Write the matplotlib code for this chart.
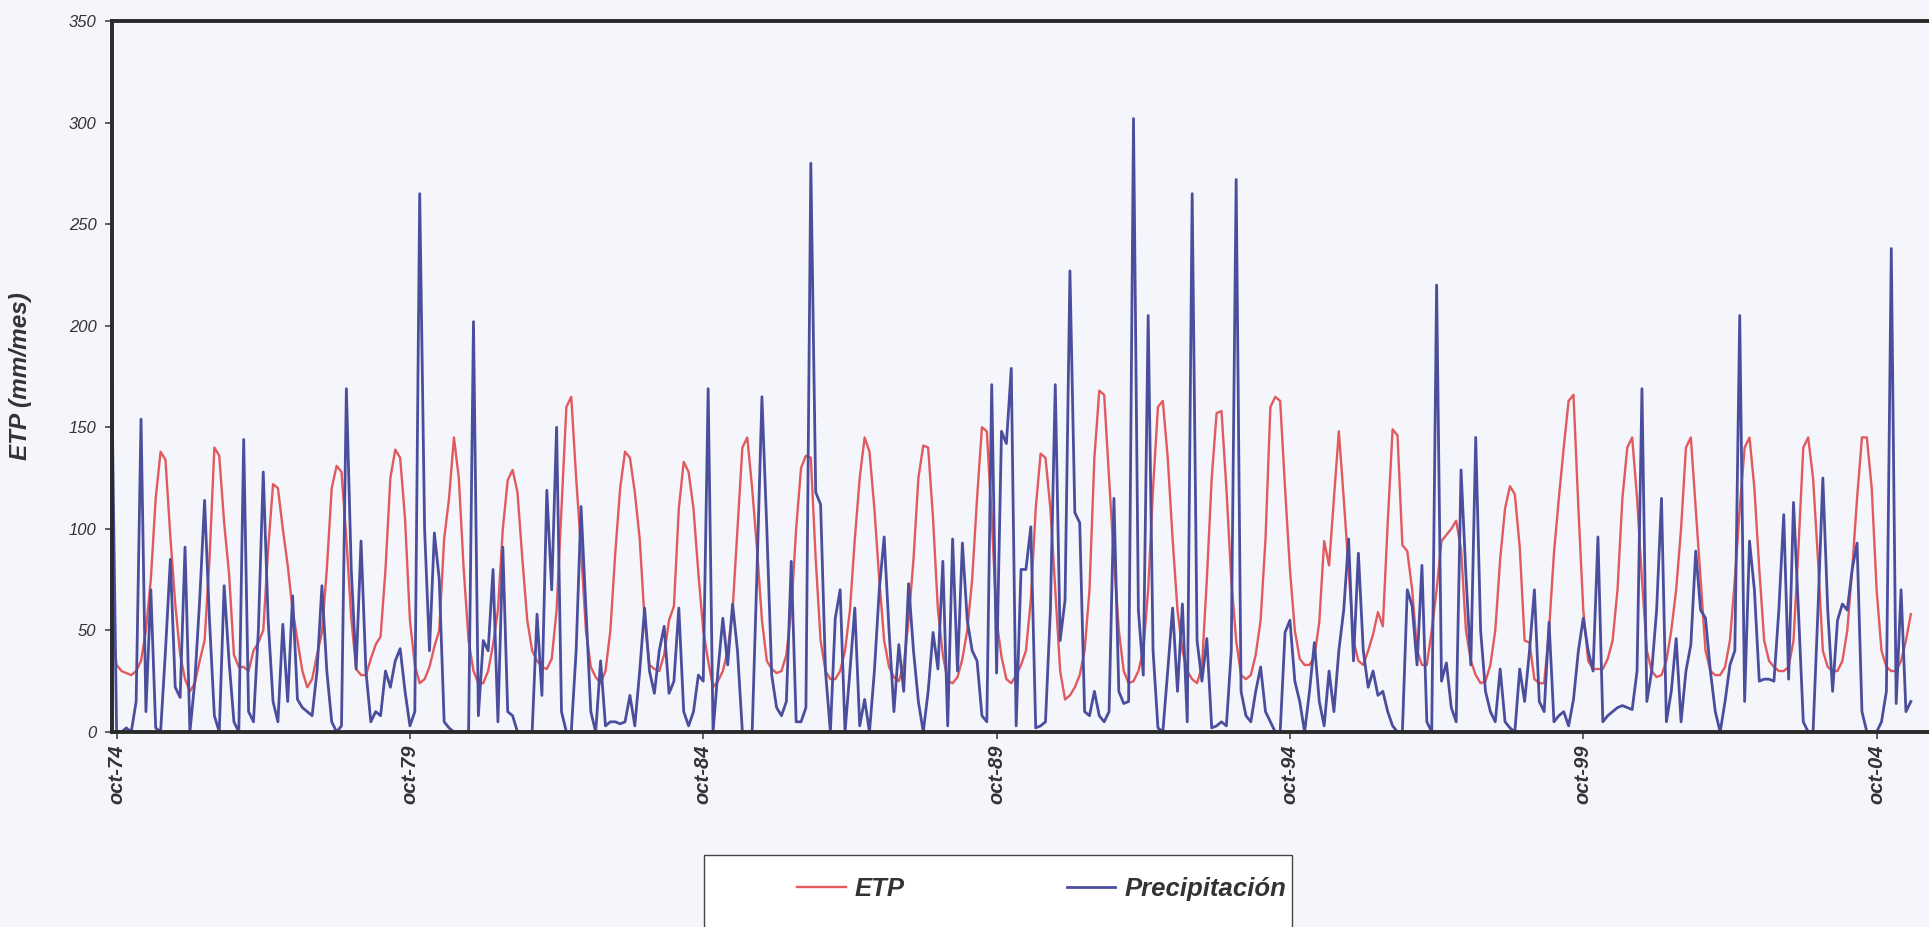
import matplotlib.pyplot as plt
from matplotlib.patches import Rectangle

plt.rcParams['font.family'] = ['Liberation Sans', 'DejaVu Sans']

# monthly series, first value sep-74, last value may-05
etp = [
    52, 33, 30, 29, 28, 30, 35, 50, 75, 115, 138, 134,
    96, 63, 38, 26, 20, 24, 35, 45, 85, 140, 136, 103,
    78, 38, 32, 32, 30, 40, 44, 50, 90, 122, 120, 100,
    82, 60, 45, 30, 22, 26, 38, 49, 80, 120, 131, 128,
    95, 56, 31, 28, 28, 36, 43, 47, 80, 125, 139, 135,
    105, 55, 33, 24, 26, 32, 42, 50, 95, 115, 145, 125,
    80, 45, 30, 24, 24, 30, 43, 60, 100, 124, 129, 118,
    85, 55, 40, 35, 32, 31, 36, 60, 110, 160, 165, 125,
    90, 50, 32, 27, 24, 30, 50, 88, 120, 138, 135, 118,
    95, 55, 33, 31, 30, 38, 55, 62, 110, 133, 128, 110,
    78, 50, 35, 22, 25, 30, 40, 60, 100, 140, 145, 120,
    90, 55, 35, 31, 29, 30, 38, 60, 100, 130, 136, 135,
    85, 45, 30, 26, 26, 30, 40, 60, 95, 125, 145, 138,
    110, 75, 45, 32, 27, 25, 33, 55, 85, 125, 141, 140,
    105, 60, 38, 25, 24, 27, 36, 50, 75, 115, 150, 148,
    105, 55, 37, 26, 24, 28, 33, 40, 65, 110, 137, 135,
    110, 70, 30, 16, 18, 22, 28, 40, 70, 135, 168, 166,
    125, 85, 50, 30, 24, 25, 30, 40, 70, 120, 160, 163,
    135, 95, 60, 40, 30, 26, 24, 32, 75, 125, 157, 158,
    120, 75, 45, 28, 26, 28, 38, 55, 95, 160, 165, 163,
    120, 80, 50, 36, 33, 33, 37, 54, 94, 82, 115, 148,
    115, 80, 45, 35, 33, 40, 48, 59, 52, 103, 149, 146,
    92, 89, 70, 40, 33, 33, 50, 70, 94, 97, 100, 104,
    90, 50, 35, 28, 24, 25, 33, 50, 85, 110, 121, 117,
    91, 45, 44, 26, 24, 24, 50, 88, 115, 140, 163, 166,
    110, 60, 35, 31, 31, 31, 36, 45, 70, 115, 140, 145,
    115, 75, 40, 30, 27, 28, 35, 50, 70, 100, 140, 145,
    110, 75, 40, 30, 28, 28, 32, 45, 75, 110, 140, 145,
    120, 80, 45, 35, 32, 30, 30, 32, 45, 90, 140, 145,
    125, 85, 40, 32, 30, 30, 35, 50, 80, 115, 145, 145,
    120, 70, 40, 32, 30, 30, 35, 45, 58,
]

precip = [
    175, 0, 0, 2, 0, 15, 154, 10, 70, 2, 0, 40,
    85, 22, 17, 91, 0, 25, 65, 114, 55, 8, 0, 72,
    35, 5, 0, 144, 10, 5, 50, 128, 55, 15, 5, 53,
    15, 67, 16, 12, 10, 8, 30, 72, 30, 5, 0, 3,
    169, 80, 31, 94, 30, 5, 10, 8, 30, 22, 35, 41,
    20, 3, 10, 265, 100, 40, 98, 75, 5, 2, 0, 0,
    0, 0, 202, 8, 45, 40, 80, 5, 91, 10, 8, 0,
    0, 0, 0, 58, 18, 119, 70, 150, 10, 0, 0, 40,
    111, 60, 10, 0, 35, 3, 5, 5, 4, 5, 18, 3,
    30, 61, 30, 19, 40, 52, 19, 25, 61, 10, 3, 10,
    28, 25, 169, 0, 30, 56, 33, 63, 40, 0, 0, 0,
    80, 165, 100, 28, 12, 8, 15, 84, 5, 5, 12, 280,
    118, 112, 30, 0, 56, 70, 0, 30, 61, 3, 16, 0,
    30, 70, 96, 50, 10, 43, 20, 73, 40, 15, 0, 20,
    49, 31, 84, 3, 95, 30, 93, 55, 40, 35, 8, 5,
    171, 29, 148, 142, 179, 3, 80, 80, 101, 2, 3, 5,
    60, 171, 45, 65, 227, 108, 103, 10, 8, 20, 8, 5,
    10, 115, 20, 14, 15, 302, 60, 28, 205, 40, 2, 0,
    30, 61, 20, 63, 5, 265, 45, 25, 46, 2, 3, 5,
    3, 40, 272, 20, 8, 5, 20, 32, 10, 5, 0, 0,
    49, 55, 25, 15, 0, 20, 44, 15, 3, 30, 10, 40,
    60, 95, 35, 88, 40, 22, 30, 18, 20, 10, 3, 0,
    0, 70, 62, 33, 82, 5, 0, 220, 25, 34, 12, 5,
    129, 77, 33, 145, 50, 20, 10, 5, 31, 5, 2, 0,
    31, 15, 40, 70, 15, 10, 54, 5, 8, 10, 3, 16,
    40, 56, 40, 30, 96, 5, 8, 10, 12, 13, 12, 11,
    30, 169, 15, 30, 60, 115, 5, 20, 46, 5, 30, 43,
    89, 60, 56, 30, 10, 0, 15, 33, 40, 205, 15, 94,
    70, 25, 26, 26, 25, 60, 107, 26, 113, 60, 5, 0,
    0, 60, 125, 60, 20, 55, 63, 60, 80, 93, 10, 0,
    0, 0, 5, 20, 238, 14, 70, 10, 15,
]

tick_months = [1, 61, 121, 181, 241, 301, 361]
tick_labels = ['oct-74', 'oct-79', 'oct-84', 'oct-89', 'oct-94', 'oct-99', 'oct-04']

bg = '#f5f6fb'
txt = '#333333'

fig = plt.figure(figsize=(19.29, 9.27), dpi=100, facecolor=bg)
ax = fig.add_axes([111.7 / 1929, 0.2104, 1818.7 / 1929, 0.7669], facecolor=bg)

months = list(range(len(etp)))
ax.plot(months, etp, color='#e05a5e', lw=1.7, label='ETP')
ax.plot(months, precip, color='#4a4e9c', lw=2.0, label='Precipitación')

ax.set_xlim(0, 372)
ax.set_ylim(0, 350)
ax.set_yticks(range(0, 351, 50))
ax.tick_params(axis='y', direction='out', length=5, width=1.2, color='#444444',
               labelsize=12, labelcolor=txt, pad=6)
for lab in ax.get_yticklabels():
    lab.set_fontstyle('italic')

ax.set_xticks(tick_months)
ax.set_xticklabels(tick_labels, rotation=90, fontsize=14.5, fontweight='bold',
                   fontstyle='italic', color=txt)
ax.tick_params(axis='x', direction='out', length=5, width=1.2, color='#444444', pad=4)

ax.set_ylabel('ETP (mm/mes)', fontsize=17.5, fontweight='bold', fontstyle='italic', color=txt)
ax.yaxis.set_label_coords(-0.0438, 0.5)

for side in ['left', 'bottom', 'top']:
    ax.spines[side].set_linewidth(2.8)
    ax.spines[side].set_color('#2a2a2a')
ax.spines['right'].set_visible(False)

# legend box, clipped by the figure bottom like in the scan
fig.patches.append(Rectangle((704 / 1929, -0.02), 588 / 1929, (927 - 855) / 927 + 0.02,
                             transform=fig.transFigure, facecolor='white',
                             edgecolor='#444444', lw=1.0))
leg = fig.legend(loc='center', bbox_to_anchor=(0.540, 0.041), ncol=2, frameon=False,
                 handlelength=1.9, handletextpad=0.35, columnspacing=6.3,
                 prop={'size': 18.5, 'weight': 'bold', 'style': 'italic'})
for t in leg.get_texts():
    t.set_color(txt)

fig.savefig('out.png', dpi=100, facecolor=bg)
